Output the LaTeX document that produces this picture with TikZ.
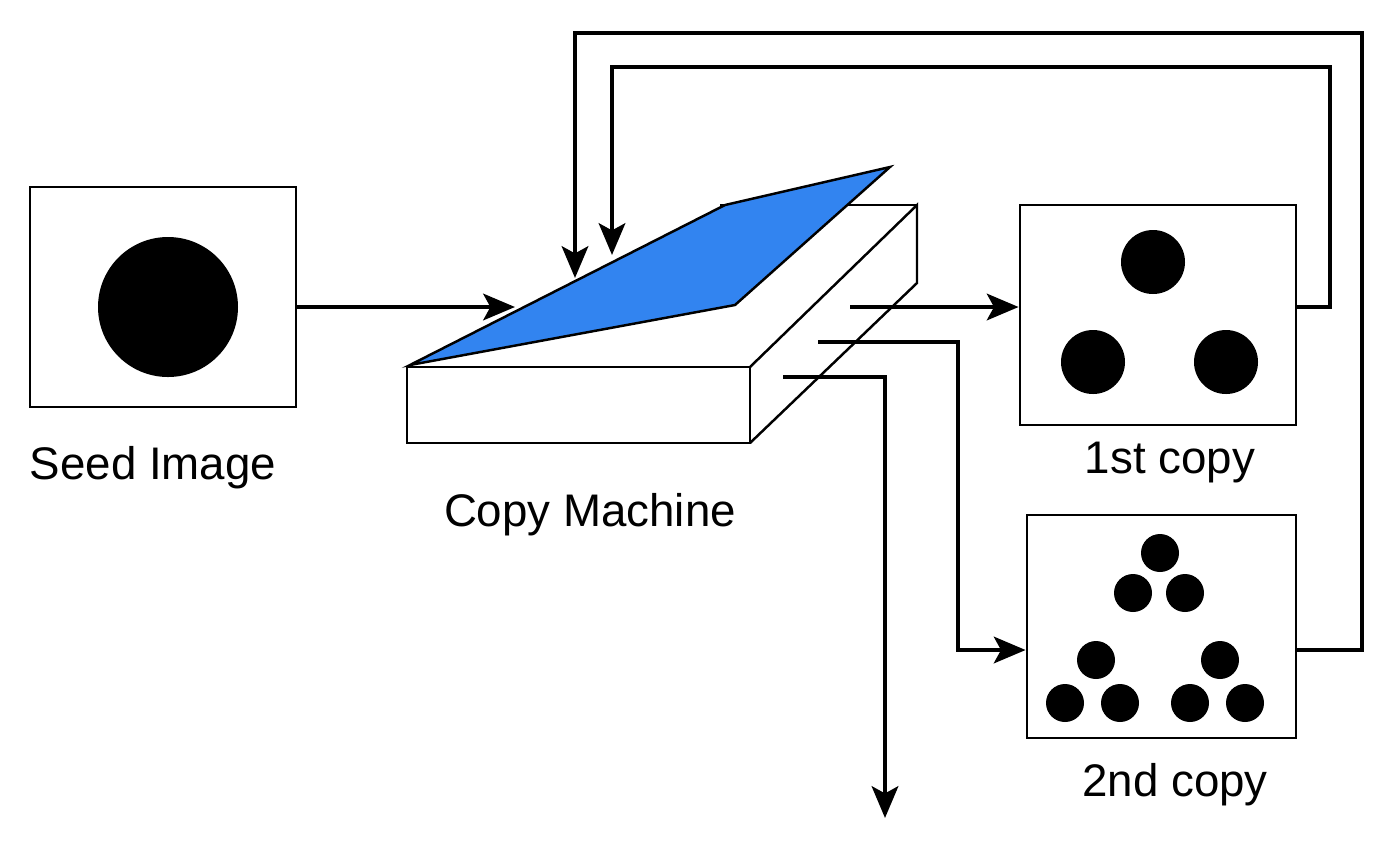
\documentclass[tikz,border=0pt]{standalone}
\usepackage{fontspec}
\setmainfont{Liberation Sans}
\usetikzlibrary{arrows.meta}
\definecolor{glass}{RGB}{50,132,240}
\begin{document}
\begin{tikzpicture}[x=0.02cm,y=-0.02cm,
  line width=2.8pt,
  conn/.style={draw,-{Stealth[length=18pt,width=15pt,inset=4pt]}},
  box/.style={draw,line width=1.6pt,inner sep=0},
  lab/.style={font=\fontsize{26}{30}\selectfont}]
\useasboundingbox (0,0) rectangle (1400,850);
% seed
\node[box, minimum width=5.32cm, minimum height=4.4cm] (seed) at (163,297) {};
\fill (168,307) circle (70);
\node[lab] (seedl) at (153,468) {Seed Image};
% machine
\fill[white] (407,367) -- (574,205) -- (917,205) -- (917,283) -- (750,443) -- (407,443) -- cycle;
\draw[line width=1.4pt] (407,367) -- (750,367) -- (750,443) -- (407,443) -- cycle;
\draw[line width=1.4pt] (750,367) -- (917,205) -- (917,283) -- (750,443);
\draw[line width=1.4pt] (720,205) -- (917,205);
\draw[line width=1.4pt,fill=glass] (410,365) -- (725,205) -- (890,167) -- (735,305) -- cycle;
\coordinate (min) at (515,307);
\node[lab] (cml) at (590,515) {Copy Machine};
% copies
\node[box, minimum width=5.52cm, minimum height=4.4cm] (c1) at (1158,315) {};
\fill (1153,262) circle (32) (1093,362) circle (32) (1226,362) circle (32);
\node[lab] (c1l) at (1170,463) {1st copy};
\node[box, minimum width=5.38cm, minimum height=4.46cm] (c2) at (1161.5,626.5) {};
\foreach \p in {(1160,553),(1133,593),(1185,593),(1096,660),(1220,660),(1065,703),(1120,703),(1190,703),(1245,703)}
  \fill \p circle (19);
\node[lab] (c2l) at (1175,785) {2nd copy};
% outputs
\coordinate (o1) at (850,307);
\coordinate (o2) at (818,342);
\coordinate (o3) at (783,377);
\coordinate (down) at (885,818);
\coordinate (f1) at (612,255);
\coordinate (f2) at (575,278);
\draw[conn] (seed.east |- min) -- (min);
\draw[conn] (o1) -- (o1 -| c1.west);
\draw[conn] (o2) -- (958,342) -- (958,650) -- (c2.west |- 0,650);
\draw[conn] (o3) -- (885,377) -- (down);
\draw[conn] (c1.east |- 0,307) -- (1330,307) -- (1330,67) -- (612,67) -- (f1);
\draw[conn] (c2.east |- 0,650) -- (1362,650) -- (1362,33) -- (575,33) -- (f2);
\end{tikzpicture}
\end{document}
